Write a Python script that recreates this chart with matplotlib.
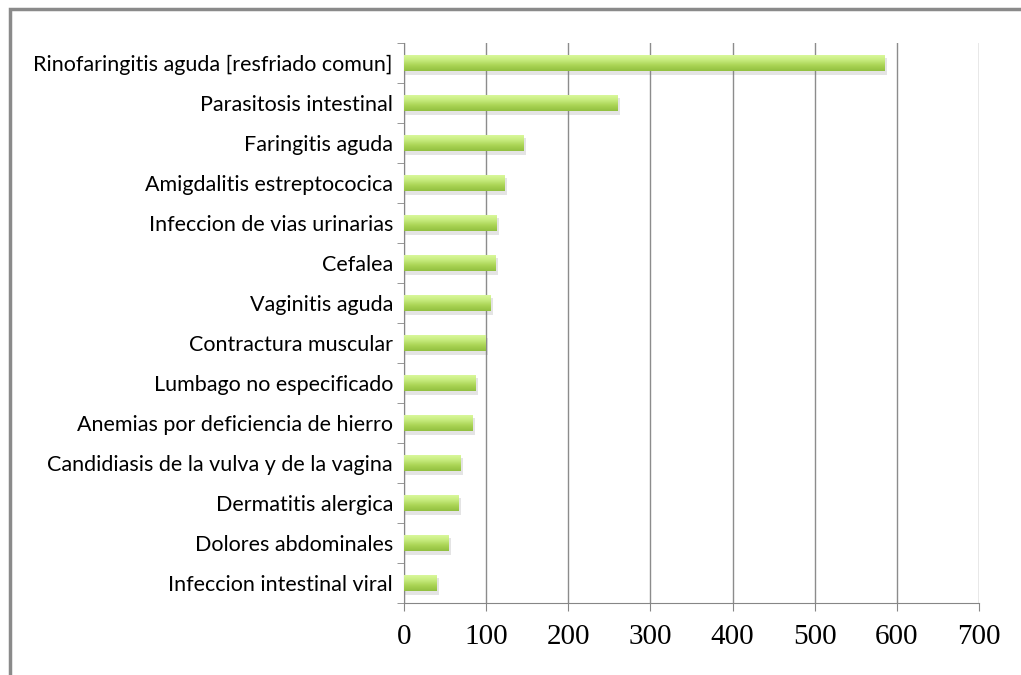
import numpy as np
import matplotlib.pyplot as plt
from matplotlib.patches import Rectangle
from matplotlib.colors import LinearSegmentedColormap

categorias = ['Rinofaringitis aguda [resfriado comun]',
              'Parasitosis intestinal',
              'Faringitis aguda',
              'Amigdalitis estreptococica',
              'Infeccion de vias urinarias',
              'Cefalea',
              'Vaginitis aguda',
              'Contractura muscular',
              'Lumbago no especificado',
              'Anemias por deficiencia de hierro',
              'Candidiasis de la vulva y de la vagina',
              'Dermatitis alergica',
              'Dolores abdominales',
              'Infeccion intestinal viral']
casos = [585, 260, 145, 122, 113, 112, 105, 99, 87, 84, 69, 66, 54, 39]
xticks = [0, 100, 200, 300, 400, 500, 600, 700]

fig = plt.figure(figsize=(10.21, 6.75), dpi=100)
ax = fig.add_axes([404/1021, 1-603/675, (979-404)/1021, (603-43)/675])

y = np.arange(len(categorias))
h = 0.42

# sombra
ax.barh(y + 0.08, np.array(casos) + 3, height=h, color='#7a7a7a', alpha=0.2,
        zorder=2, linewidth=0)
barras = ax.barh(y, casos, height=h, color='#b5dc68', zorder=3, linewidth=0)

cmap = LinearSegmentedColormap.from_list('verde', ['#dcfaa0', '#c8ec80', '#aad455', '#92c040'])
grad = np.linspace(0, 1, 64).reshape(-1, 1)
for b in barras:
    x0, y0 = b.get_x(), b.get_y()
    im = ax.imshow(grad, cmap=cmap, aspect='auto', zorder=4,
                   extent=[x0, x0 + b.get_width(), y0 + b.get_height(), y0],
                   origin='upper')
    im.set_clip_path(b)

ax.set_xlim(0, 700)
ax.set_ylim(len(categorias) - 0.5, -0.5)
ax.set_xticks(xticks)
ax.set_xticklabels([str(t) for t in xticks], fontsize=21, family='Liberation Serif')
ax.set_yticks(y)
ax.set_yticklabels(categorias, fontsize=15.5, family='Lato')
ax.set_yticks(np.arange(len(categorias) + 1) - 0.5, minor=True)
ax.tick_params(axis='y', which='major', length=0, pad=8)
ax.tick_params(axis='y', which='minor', length=5, color='#868686')
ax.tick_params(axis='x', length=6, color='#868686', pad=9)

ax.grid(axis='x', color='#8c8c8c', linewidth=1, zorder=1)
ax.set_axisbelow(True)
for s in ['top', 'right']:
    ax.spines[s].set_visible(False)
for s in ['left', 'bottom']:
    ax.spines[s].set_color('#868686')

fig.patches.append(Rectangle((10/1021, -0.2), 1.2, 1.2 - 9/675, transform=fig.transFigure,
                             fill=False, edgecolor='#8a8a8a', linewidth=2.5))

fig.savefig('out.png', dpi=100)
